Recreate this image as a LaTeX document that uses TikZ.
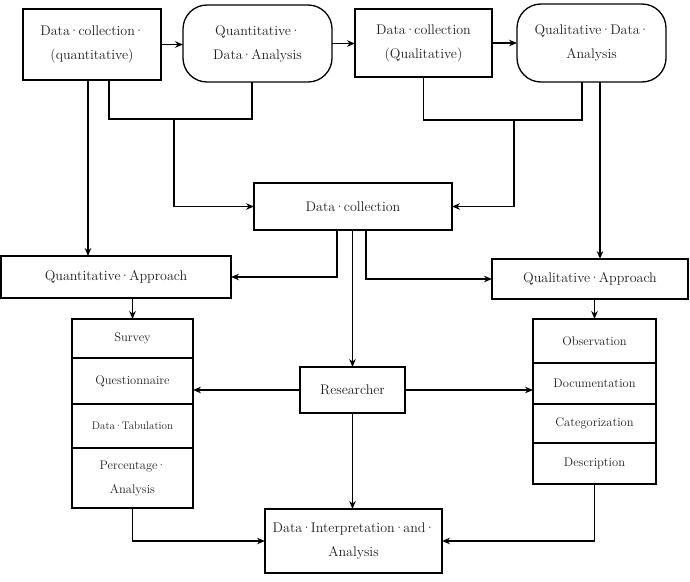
\documentclass[tikz,border=0pt]{standalone}
\usepackage{fontspec}
\usetikzlibrary{arrows.meta,calc}
\newcommand\md{\kern-0.07em·\kern-0.07em}
\begin{document}
\begin{tikzpicture}[x=1pt,y=-1pt,
  every node/.style={inner sep=0pt,outer sep=0pt},
  box/.style={draw,line width=1.3pt,align=center,text=black!88,font=\fontsize{14}{24}\selectfont},
  thickbox/.style={box,line width=2.4pt},
  stadium/.style={box,rounded corners=24pt},
  cell/.style={draw,line width=1.3pt,align=center,text=black!88,font=\fontsize{12.5}{24}\selectfont},
  conn/.style={line width=1.2pt},
  arr/.style={conn,-{Stealth[length=8pt,width=6.5pt]}}]
\useasboundingbox (0,0) rectangle (690,581);
% top row
\node[box,minimum width=138,minimum height=71] (dcq) at (92,44.5) {Data\md collection\md\\(quantitative)};
\node[stadium,minimum width=149,minimum height=77] (qda) at (257.5,43.5) {Quantitative\md\\Data\md Analysis};
\node[box,minimum width=137,minimum height=68] (dcl) at (423.5,43) {Data\md collection\\(Qualitative)};
\node[stadium,minimum width=149,minimum height=78] (qlda) at (591.5,43) {Qualitative\md Data\md\\Analysis};
% middle
\node[thickbox,minimum width=198,minimum height=47] (dc) at (353,206.5) {Data\md collection};
\node[box,minimum width=230,minimum height=42] (qta) at (116,277) {Quantitative\md Approach};
\node[box,minimum width=196,minimum height=40] (qla) at (590,279) {Qualitative\md Approach};
% left stack
\node[cell,minimum width=121,minimum height=39] (survey) at (132.5,338.5) {Survey};
\node[cell,minimum width=121,minimum height=46] (quest) at (132.5,381) {Questionnaire};
\node[cell,minimum width=121,minimum height=44,font=\fontsize{11}{20}\selectfont] (tab) at (132.5,426) {Data\md Tabulation};
\node[cell,minimum width=121,minimum height=60] (perc) at (132.5,478) {Percentage\md\\Analysis};
\draw[line width=2.6pt] (perc.north west) -- (perc.north east);
% researcher
\node[thickbox,minimum width=105,minimum height=46] (res) at (352.5,390) {Researcher};
% right stack
\node[cell,minimum width=123,minimum height=44] (obs) at (594.5,341) {Observation};
\node[cell,minimum width=123,minimum height=41] (doc) at (594.5,383.5) {Documentation};
\node[cell,minimum width=123,minimum height=39] (cat) at (594.5,423.5) {Categorization};
\node[cell,minimum width=123,minimum height=41] (desc) at (594.5,463.5) {Description};
% bottom
\node[box,minimum width=177,minimum height=64] (di) at (353.5,541) {Data\md Interpretation\md and\md\\Analysis};
% junctions
\coordinate (jL) at (174,119);
\coordinate (jR) at (514,120);
% connectors top row
\draw[arr] (dcq.east) -- (dcq.east -| qda.west);
\draw[arr] (qda.east) -- (qda.east -| dcl.west);
\draw[arr] (dcl.east) -- (dcl.east -| qlda.west);
% left feeds
\draw[arr] ([xshift=-4pt]dcq.south) -- ([xshift=-4pt]dcq.south |- qta.north);
\draw[conn] ([xshift=17pt]dcq.south) |- ([xshift=-5.5pt]qda.south |- jL) -- ([xshift=-5.5pt]qda.south);
\draw[arr] (jL) |- (dc.west);
% right feeds
\draw[conn] (dcl.south) |- ([xshift=-9.5pt]qlda.south |- jR) -- ([xshift=-9.5pt]qlda.south);
\draw[arr] (jR) |- (dc.east);
\draw[arr] ([xshift=8.5pt]qlda.south) -- ([xshift=8.5pt]qlda.south |- qla.north);
% from data collection
\draw[arr] ([xshift=-16pt]dc.south) |- (qta.east);
\draw[arr] ([xshift=13pt]dc.south) |- (qla.west);
\draw[arr] (dc.south -| res.north) -- (res.north);
% approaches to stacks
\draw[arr] (qta.south -| survey.north) -- (survey.north);
\draw[arr] (qla.south -| obs.north) -- (obs.north);
% researcher
\draw[arr] (res.west) -- (res.west -| quest.east);
\draw[arr] (res.east) -- (res.east -| doc.west);
\draw[arr] (res.south) -- (res.south |- di.north);
% to interpretation
\draw[arr] (perc.south) |- (di.west);
\draw[arr] (desc.south) |- (di.east);
\end{tikzpicture}
\end{document}
